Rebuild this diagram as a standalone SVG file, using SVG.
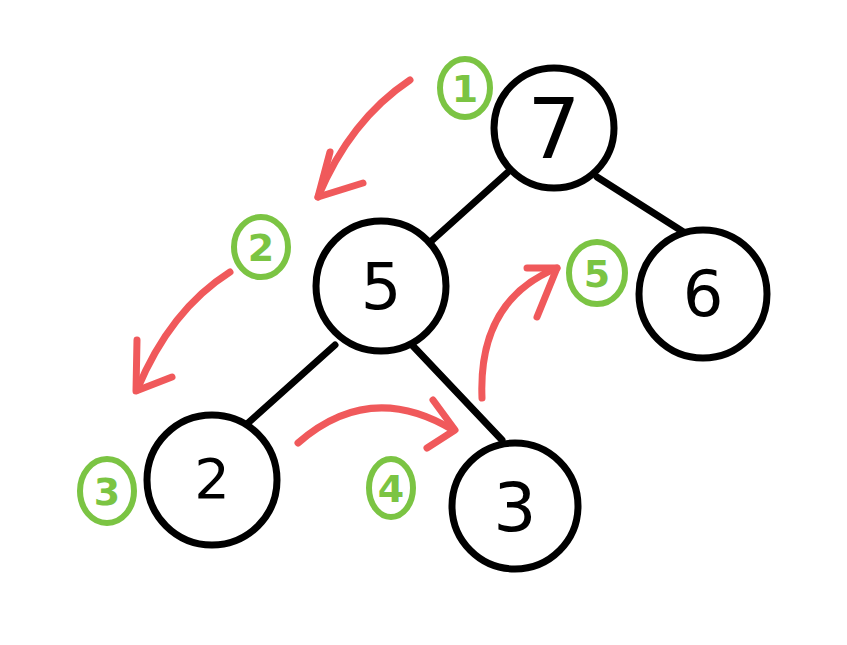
<svg xmlns="http://www.w3.org/2000/svg" width="847" height="645" viewBox="0 0 847 645">
<style>
.node circle{fill:#fff;stroke:#000;stroke-width:7}
.node text{font-family:"DejaVu Sans","Liberation Sans",sans-serif;fill:#000;text-anchor:middle}
.edge{stroke:#000;stroke-width:7;stroke-linecap:round;fill:none}
.red{stroke:#f0595b;stroke-width:7;stroke-linecap:round;stroke-linejoin:round;fill:none}
.badge ellipse{fill:none;stroke:#7bc443;stroke-width:6}
.badge text{font-family:"DejaVu Sans","Liberation Sans",sans-serif;font-weight:bold;fill:#7bc443;text-anchor:middle;font-size:38px}
</style>
<rect width="847" height="645" fill="#fff"/>
<g id="connectors">
<line class="edge" x1="508" y1="172" x2="427" y2="245"/>
<line class="edge" x1="597" y1="177" x2="685" y2="233"/>
<line class="edge" x1="335" y1="345" x2="248" y2="423"/>
<line class="edge" x1="413" y1="346" x2="502" y2="440"/>
</g>
<g id="n7" class="node"><circle cx="554" cy="128" r="60"/><text x="554" y="158" font-size="84">7</text></g>
<g id="n5" class="node"><circle cx="381" cy="286" r="65"/><text x="381" y="309" font-size="64">5</text></g>
<g id="n6" class="node"><circle cx="703" cy="294" r="64"/><text x="703" y="316" font-size="64">6</text></g>
<g id="n2" class="node"><circle cx="212" cy="480" r="65"/><text x="212" y="498" font-size="56">2</text></g>
<g id="n3" class="node"><circle cx="515" cy="506" r="63"/><text x="515" y="531" font-size="68">3</text></g>
<g id="arrows">
<path class="red" d="M410,80 Q350,120 318,197"/>
<polyline class="red" points="330,152 318,197 363,183"/>
<path class="red" d="M230,272 Q170,310 137,390"/>
<polyline class="red" points="137,340 136,391 172,377"/>
<path class="red" d="M298,443 Q370,380 453,430"/>
<polyline class="red" points="433,400 455,430 427,448"/>
<path class="red" d="M482,398 Q478,300 557,268"/>
<polyline class="red" points="527,268 557,268 537,317"/>
</g>
<g id="b1" class="badge"><ellipse cx="465" cy="88" rx="25" ry="29"/><text x="465" y="102">1</text></g>
<g id="b2" class="badge"><ellipse cx="261" cy="247" rx="27" ry="30"/><text x="261" y="261">2</text></g>
<g id="b3" class="badge"><ellipse cx="107" cy="491" rx="27" ry="32"/><text x="107" y="505">3</text></g>
<g id="b4" class="badge"><ellipse cx="391" cy="488" rx="22" ry="29"/><text x="391" y="502">4</text></g>
<g id="b5" class="badge"><ellipse cx="597" cy="273" rx="28" ry="31"/><text x="597" y="287">5</text></g>
</svg>
